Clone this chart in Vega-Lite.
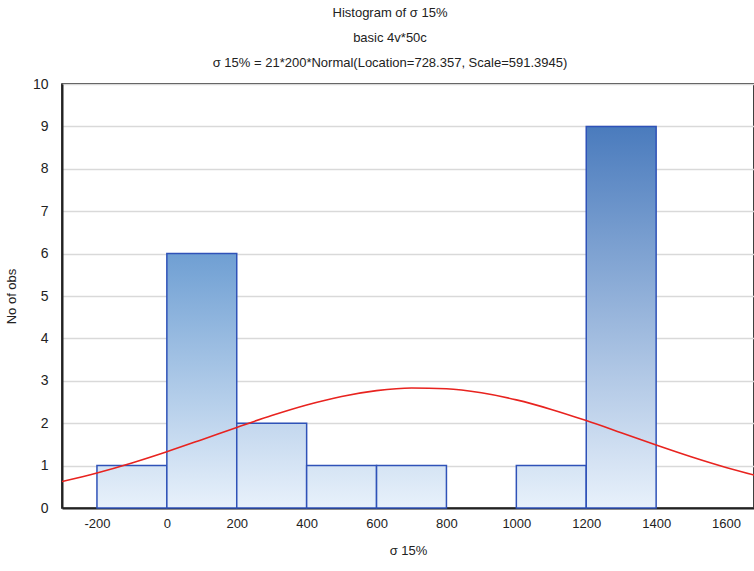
{
  "$schema": "https://vega.github.io/schema/vega-lite/v6.json",
  "width": 692,
  "height": 424,
  "autosize": "none",
  "padding": {"left": 62, "top": 84, "right": 0, "bottom": 63},
  "background": "white",
  "config": {
    "font": "Liberation Sans",
    "view": {"stroke": "black", "strokeWidth": 1.5},
    "axis": {"labelFont": "Liberation Sans", "titleFont": "Liberation Sans", "labelFontSize": 13, "titleFontSize": 13, "titleFontWeight": "normal", "labelColor": "#222", "titleColor": "#222"}
  },
  "title": {
    "text": ["Histogram of σ  15%", "basic 4v*50c", "σ 15% = 21*200*Normal(Location=728.357,  Scale=591.3945)"],
    "fontSize": 13,
    "fontWeight": "normal",
    "font": "Liberation Sans",
    "color": "#222",
    "lineHeight": 25,
    "anchor": "middle",
    "dx": -18,
    "offset": 7
  },
  "datasets": {
    "bins": [
      {"bin_start": -200, "bin_end": 0, "count": 1},
      {"bin_start": 0, "bin_end": 200, "count": 6},
      {"bin_start": 200, "bin_end": 400, "count": 2},
      {"bin_start": 400, "bin_end": 600, "count": 1},
      {"bin_start": 600, "bin_end": 800, "count": 1},
      {"bin_start": 800, "bin_end": 1000, "count": 0},
      {"bin_start": 1000, "bin_end": 1200, "count": 1},
      {"bin_start": 1200, "bin_end": 1400, "count": 9}
    ],
    "curve": [
      {"x": -300, "y": 0.6247}, {"x": -200, "y": 0.8265}, {"x": -100, "y": 1.0622},
      {"x": 0, "y": 1.3271}, {"x": 100, "y": 1.6113}, {"x": 200, "y": 1.9011},
      {"x": 300, "y": 2.1797}, {"x": 400, "y": 2.4287}, {"x": 500, "y": 2.6299},
      {"x": 600, "y": 2.7673}, {"x": 700, "y": 2.8301}, {"x": 800, "y": 2.8126},
      {"x": 900, "y": 2.7165}, {"x": 1000, "y": 2.5497}, {"x": 1100, "y": 2.3256},
      {"x": 1200, "y": 2.0615}, {"x": 1300, "y": 1.7759}, {"x": 1400, "y": 1.4866},
      {"x": 1500, "y": 1.2095}, {"x": 1600, "y": 0.9563}, {"x": 1700, "y": 0.7348}
    ]
  },
  "layer": [
    {
      "data": {"name": "bins"},
      "transform": [{"filter": "datum.count > 0"}],
      "mark": {"type": "bar", "stroke": "#2f52b8", "strokeWidth": 1.5},
      "encoding": {
        "x": {"field": "bin_start", "type": "quantitative", "scale": {"domain": [-300, 1680], "nice": false, "zero": false},
          "axis": {"title": "σ 15%", "labelExpr": "'' + datum.value", "values": [-200, 0, 200, 400, 600, 800, 1000, 1200, 1400, 1600], "grid": false, "ticks": false, "labelPadding": 9, "titlePadding": 14, "domainColor": "#222", "domainWidth": 2}},
        "x2": {"field": "bin_end"},
        "y": {"field": "count", "type": "quantitative", "scale": {"domain": [0, 10], "nice": false},
          "axis": {"title": "No of obs", "values": [0,1,2,3,4,5,6,7,8,9,10], "ticks": false, "labelPadding": 14, "labelFontSize": 14, "titlePadding": 14, "gridColor": "#d9d9d9", "gridWidth": 1.5, "domainColor": "#222", "domainWidth": 2}},
        "y2": {"datum": 0},
        "color": {
          "condition": [
            {"test": "datum.count == 9", "value": {"gradient": "linear", "x1": 0, "y1": 0, "x2": 0, "y2": 1, "stops": [{"offset": 0, "color": "#4a7bbd"}, {"offset": 1, "color": "#e8f1fb"}]}},
            {"test": "datum.count == 6", "value": {"gradient": "linear", "x1": 0, "y1": 0, "x2": 0, "y2": 1, "stops": [{"offset": 0, "color": "#6f9fd3"}, {"offset": 1, "color": "#e8f1fb"}]}},
            {"test": "datum.count == 2", "value": {"gradient": "linear", "x1": 0, "y1": 0, "x2": 0, "y2": 1, "stops": [{"offset": 0, "color": "#c3d7ee"}, {"offset": 1, "color": "#e8f1fb"}]}}
          ],
          "value": {"gradient": "linear", "x1": 0, "y1": 0, "x2": 0, "y2": 1, "stops": [{"offset": 0, "color": "#d5e4f4"}, {"offset": 1, "color": "#e8f1fb"}]}
        }
      }
    },
    {
      "data": {"name": "curve"},
      "mark": {"type": "line", "color": "#e8231f", "strokeWidth": 1.6, "interpolate": "monotone", "clip": true},
      "encoding": {
        "x": {"field": "x", "type": "quantitative"},
        "y": {"field": "y", "type": "quantitative"}
      }
    }
  ]
}
